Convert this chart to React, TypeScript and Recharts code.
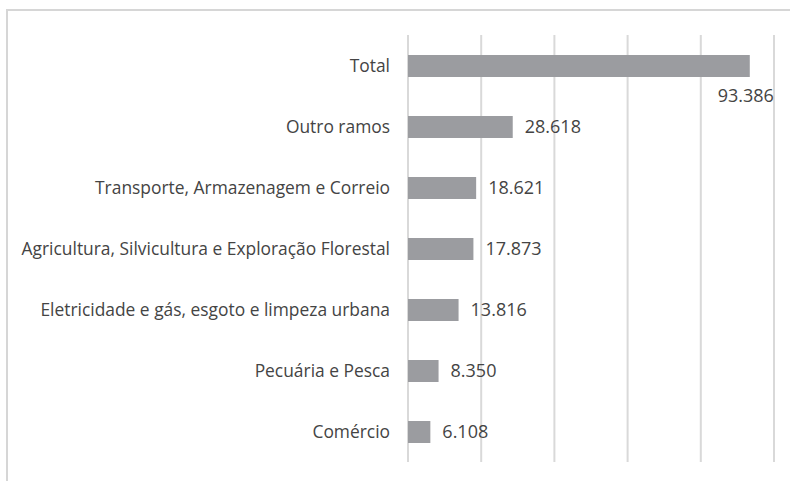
import { BarChart, Bar, XAxis, YAxis, CartesianGrid, LabelList } from 'recharts';

const categories = [
  'Total',
  'Outro ramos',
  'Transporte, Armazenagem e Correio',
  'Agricultura, Silvicultura e Exploração Florestal',
  'Eletricidade e gás, esgoto e limpeza urbana',
  'Pecuária e Pesca',
  'Comércio',
];

const values = [93386, 28618, 18621, 17873, 13816, 8350, 6108];

const xTicks = [0, 20000, 40000, 60000, 80000, 100000];

const data = categories.map((name, i) => ({ name, value: values[i] }));

const CHART_W = 790;
const CHART_H = 481;
const MARGIN_RIGHT = 16;
const FONT = '"Open Sans", sans-serif';
const TEXT = '#444444';

// pt-BR thousands separator
const fmt = (v: number) => String(v).replace(/\B(?=(\d{3})+(?!\d))/g, '.');

function ValueLabel(props: any) {
  const { x, y, width, height, value } = props;
  const label = fmt(Number(value));
  const end = Number(x) + Number(width);
  const fitsRight = end + 70 < CHART_W - MARGIN_RIGHT + 10;
  if (fitsRight) {
    return (
      <text
        x={end + 12}
        y={Number(y) + Number(height) / 2}
        dy="0.35em"
        fill={TEXT}
        fontSize={18}
        fontFamily={FONT}
      >
        {label}
      </text>
    );
  }
  return (
    <text
      x={end - 4}
      y={Number(y) + Number(height) + 19}
      dy="0.35em"
      textAnchor="middle"
      fill={TEXT}
      fontSize={18}
      fontFamily={FONT}
    >
      {label}
    </text>
  );
}

export default function App() {
  return (
    <div
      style={{
        position: 'absolute',
        left: 0,
        top: 0,
        width: CHART_W,
        height: CHART_H,
        background: '#fff',
        overflow: 'hidden',
      }}
    >
      <div
        style={{
          position: 'absolute',
          left: 6,
          top: 9,
          width: 800,
          height: 500,
          borderLeft: '2px solid #d6d6d6',
          borderTop: '2px solid #d6d6d6',
        }}
      />
      <div style={{ position: 'absolute', left: 0, top: 0 }}>
        <BarChart
          width={CHART_W}
          height={CHART_H}
          data={data}
          layout="vertical"
          margin={{ top: 35, right: MARGIN_RIGHT, bottom: 19, left: 0 }}
          barCategoryGap={19}
        >
          <CartesianGrid horizontal={false} stroke="#d9d9d9" strokeWidth={2} />
          <XAxis type="number" domain={[0, 100000]} ticks={xTicks} hide />
          <YAxis
            type="category"
            dataKey="name"
            width={408}
            axisLine={false}
            tickLine={false}
            tickMargin={12}
            tick={{ fill: TEXT, fontSize: 17.4, fontFamily: FONT }}
            interval={0}
          />
          <Bar dataKey="value" fill="#9b9ca0" barSize={22} isAnimationActive={false}>
            <LabelList dataKey="value" content={ValueLabel} />
          </Bar>
        </BarChart>
      </div>
    </div>
  );
}
